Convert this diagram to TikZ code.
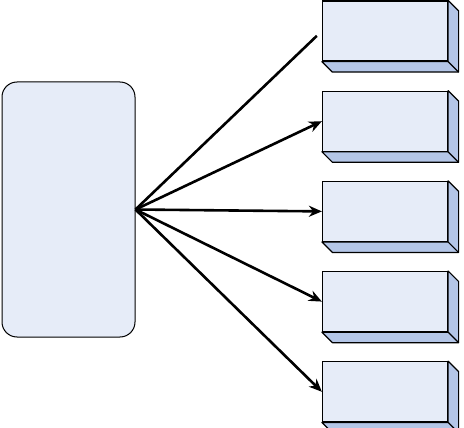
\documentclass[tikz,border=0pt]{standalone}
\usepackage{tikz}
\usepackage{xcolor}
\usetikzlibrary{arrows.meta,positioning,calc}
\definecolor{Face}{HTML}{E6ECF8}
\definecolor{Side}{HTML}{B4C6E7}

\begin{document}
\begin{tikzpicture}[
  x=1pt,y=-1pt,
  node distance=29pt,
  panel/.style={rounded corners=15pt,draw,fill=Face,line width=1pt,minimum width=133pt,minimum height=255pt,inner sep=0pt},
  block/.style={draw,fill=Face,line width=1.2pt,minimum width=125pt,minimum height=60pt,inner sep=0pt},
  depth/.style={fill=Side,draw,line width=1.2pt,line join=round},
  link/.style={-{Stealth[length=13pt,width=11pt]},line width=2.6pt}
]
\useasboundingbox (0,0) rectangle (464,428);
\node[panel] (hub) at (68.5,209.5) {};
\node[block] (out1) at (385,31) {};
\node[block,below=of out1] (out2) {};
\node[block,below=of out2] (out3) {};
\node[block,below=of out3] (out4) {};
\node[block,below=of out4] (out5) {};
% sides of the blocks
\foreach \n in {1,...,5}{
  \draw[depth] (out\n.north east) -- ++(10.5,10.5) -- ($(out\n.south east)+(10.5,10.5)$)
    -- ($(out\n.south west)+(10.5,10.5)$) -- (out\n.south west) -- (out\n.south east) -- cycle;
  \draw[line width=1.2pt] (out\n.south east) -- ++(10.5,10.5);
}
\draw[line width=2.6pt,shorten >=7pt] (hub.east) -- (out1.west);
\foreach \n in {2,...,5}
  \draw[link] (hub.east) -- (out\n.west);
\end{tikzpicture}
\end{document}
